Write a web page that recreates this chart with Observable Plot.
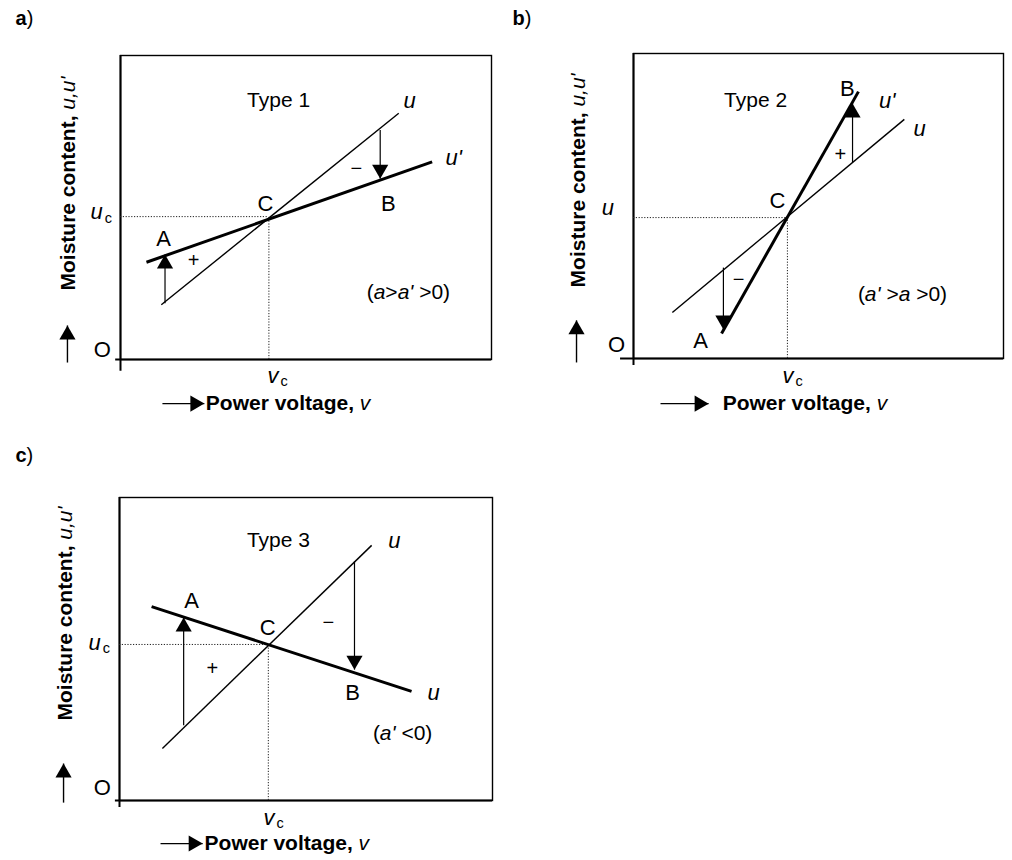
<!DOCTYPE html>
<html><head><meta charset="utf-8">
<script src="https://cdn.jsdelivr.net/npm/d3@7"></script>
<script src="https://cdn.jsdelivr.net/npm/@observablehq/plot@0.6"></script>
<style>
body{margin:0;background:#fff;}
#wrap{position:relative;width:1012px;height:860px;background:#fff;}
.panel{position:absolute;}
</style></head><body><div id="wrap"></div>
<script>
// ---------- data (schematic units, 0..100 on both axes) ----------
const panelTags = ["a", "b", "c"];
const typeLabels = ["Type 1", "Type 2", "Type 3"];
const conditionLabels = [
  [["(", ""], ["a", "i"], [">", ""], ["a'", "i"], [" >0)", ""]],
  [["(", ""], ["a'", "i"], [" >", ""], ["a", "i"], [" >0)", ""]],
  [["(", ""], ["a'", "i"], [" <0)", ""]]
];
// crossing point C
const crossX = [40, 41.6, 39.9];
const crossY = [47, 46.2, 51.5];
// thin line u (two end points)
const uLineX = [[11, 75], [10.5, 73.2], [11.5, 67.6]];
const uLineY = [[18, 81], [15.1, 78.4], [17.2, 84.2]];
// thick line u' (two end points)
const upLineX = [[7, 84], [23.8, 60.8], [8.6, 78.3]];
const upLineY = [[32, 65], [8.2, 87.5], [64, 36]];
// arrow at A: x, from (on u), to (on u')
const arrowAX = [12, 24.3, 17.2];
const arrowAFrom = [18.5, 29.8, 24.8];
const arrowATo = [34.5, 9.5, 60.4];
// arrow at B
const arrowBX = [70, 59.2, 63];
const arrowBFrom = [75.5, 64.3, 78.9];
const arrowBTo = [59.5, 83.6, 43.2];
// line-end labels
const thinLineLabels = ["u", "u", "u"];
const thickLineLabels = ["u'", "u'", "u"];
const signNearA = ["+", "−", "+"];
const signNearB = ["−", "+", "−"];
const yLevelLabel = [[["u", "i"], ["c", "sub"]], [["u", "i"]], [["u", "i"], ["c", "sub"]]];

// ---------- layout ----------
const layout = [
  {left:0, top:0, w:506, h:420, mL:120, mR:15, mT:55, mB:61, ext:[-1.3, -3.9],
   tag:[-28.3,112.2], type:[42.6,85.2], thin:[77.9,85.2], thick:[89.8,66.4],
   sA:[19.7,32.6], sB:[63.6,62.8], A:[11.6,39.5], B:[72.2,51.3], C:[39.1,51.3],
   cond:[77.6,22.0], O:[-4.9,3.3], uc:[-8.1,48.4], vc:[39.6,-5.3],
   ylab:[-14.0,22.7], upArr:[-14.3,-1,11.2], pArr:[-14.5,11.3,22.6], pText:[23.0,-14.5]},
  {left:506, top:0, w:506, h:420, mL:127, mR:9, mT:53, mB:62, ext:[-3.5, -2.3],
   tag:[-32.7,111.5], type:[33.0,84.6], thin:[77.3,75.4], thick:[68.6,84.6],
   sA:[28.4,25.9], sB:[55.9,66.9], A:[18.1,5.9], B:[57.8,88.5], C:[38.9,51.8],
   cond:[72.7,21.0], O:[-4.6,4.6], uc:[-8.6,49.2], vc:[40.3,-5.6],
   ylab:[-14.9,23.3], upArr:[-15.4,-1.3,12.5], pArr:[-14.8,7.3,20.3], pText:[24.1,-14.8]},
  {left:0, top:420, w:506, h:440, mL:119, mR:14, mT:77, mB:60, ext:[-1.1, -2.3],
   tag:[-27.9,113.9], type:[42.6,85.8], thin:[73.7,85.8], thick:[84.2,35.6],
   sA:[24.9,43.6], sB:[56.0,58.7], A:[19.3,65.7], B:[62.5,35.6], C:[39.7,56.8],
   cond:[75.9,22.1], O:[-4.6,4.0], uc:[-8.3,52.1], vc:[38.6,-5.6],
   ylab:[-14.5,26.4], upArr:[-15.0,-0.7,12.2], pArr:[-14.2,11.0,22.3], pText:[22.8,-14.2]}
];

const FONT = '"Liberation Sans", Arial, Helvetica, sans-serif';
const ctx = document.createElement("canvas").getContext("2d");

function rich(segs, x, y, {size = 20, rotate = 0, anchor = "start"} = {}) {
  const parts = segs.map(([t, st]) => {
    const s = {t, b: st.includes("b") && !st.includes("sub"), i: st.includes("i"), sub: st.includes("sub")};
    s.fs = s.sub ? size * 0.66 : size;
    ctx.font = `${s.i ? "italic" : "normal"} ${s.b ? "bold" : "normal"} ${s.fs}px ${FONT}`;
    s.w = ctx.measureText(t).width + (s.sub ? 2 : 0);
    return s;
  });
  const total = d3.sum(parts, p => p.w);
  let off = anchor === "middle" ? -total / 2 : anchor === "end" ? -total : 0;
  return parts.map(p => {
    const perp = p.sub ? size * 0.26 : 0;
    const along = off + (p.sub ? 2 : 0);
    off += p.w;
    const [dx, dy] = rotate === -90 ? [perp, -along] : [along, perp];
    return Plot.text([p.t], {x: [x], y: [y], text: d => d, textAnchor: "start", rotate, dx, dy,
      fontSize: p.fs, fontWeight: p.b ? "bold" : "normal", fontStyle: p.i ? "italic" : "normal",
      fontFamily: FONT, fill: "#000"});
  });
}
function label(t, pos, opts = {}) {
  return Plot.text([t], {x: [pos[0]], y: [pos[1]], text: d => d, fontSize: 22, fontFamily: FONT, fill: "#000", ...opts});
}
const HEAD = 9.3; // tip offset of the triangle symbol (r = 6)
function vArrow(x, from, to, sw = 1.2) {
  const up = to > from;
  return [
    Plot.link([0], {x1: [x], y1: [from], x2: [x], y2: [to], stroke: "#000", strokeWidth: sw}),
    Plot.dot([0], {x: [x], y: [to], symbol: "triangle", r: 6, fill: "#000", stroke: "none",
      rotate: up ? 0 : 180, dy: up ? HEAD : -HEAD})
  ];
}
function hArrow(y, from, to) {
  return [
    Plot.link([0], {x1: [from], y1: [y], x2: [to], y2: [y], stroke: "#000", strokeWidth: 1.3}),
    Plot.dot([0], {x: [to], y: [y], symbol: "triangle", r: 6, fill: "#000", stroke: "none",
      rotate: 90, dx: -HEAD})
  ];
}

const wrap = document.getElementById("wrap");
layout.forEach((L, i) => {
  const pts = (xs, ys) => xs.map((x, j) => ({x, y: ys[j]}));
  const dotted = {stroke: "#222", strokeWidth: 1, strokeDasharray: "1.2,1.6"};
  const marks = [
    Plot.frame({stroke: "#000", strokeWidth: 1.4}),
    Plot.ruleY([0], {x1: L.ext[0], x2: 100, stroke: "#000", strokeWidth: 2}),
    Plot.ruleX([0], {y1: L.ext[1], y2: 100, stroke: "#000", strokeWidth: 2}),
    Plot.ruleY([crossY[i]], {x1: 0, x2: crossX[i], ...dotted}),
    Plot.ruleX([crossX[i]], {y1: 0, y2: crossY[i], ...dotted}),
    Plot.line(pts(uLineX[i], uLineY[i]), {x: "x", y: "y", stroke: "#000", strokeWidth: 1.4, strokeLinecap: "butt"}),
    Plot.line(pts(upLineX[i], upLineY[i]), {x: "x", y: "y", stroke: "#000", strokeWidth: 3, strokeLinecap: "butt"}),
    ...vArrow(arrowAX[i], arrowAFrom[i], arrowATo[i]),
    ...vArrow(arrowBX[i], arrowBFrom[i], arrowBTo[i]),
    // labels
    ...rich([[panelTags[i], "b"], [")", ""]], L.tag[0], L.tag[1], {size: 20}),
    label(typeLabels[i], L.type, {fontSize: 21}),
    label(thinLineLabels[i], L.thin, {fontStyle: "italic"}),
    label(thickLineLabels[i], L.thick, {fontStyle: "italic"}),
    label(signNearA[i], L.sA, {fontSize: 20}),
    label(signNearB[i], L.sB, {fontSize: 20}),
    label("A", L.A), label("B", L.B), label("C", L.C),
    ...rich(conditionLabels[i], L.cond[0], L.cond[1], {size: 21, anchor: "middle"}),
    label("O", L.O),
    ...rich(yLevelLabel[i], L.uc[0], L.uc[1], {size: 22}),
    ...rich([["v", "i"], ["c", "sub"]], L.vc[0], L.vc[1], {size: 22}),
    ...rich([["Moisture content, ", "b"], ["u,u'", "i"]], L.ylab[0], L.ylab[1], {size: 21, rotate: -90}),
    ...vArrow(L.upArr[0], L.upArr[1], L.upArr[2], 1.4),
    ...hArrow(L.pArr[0], L.pArr[1], L.pArr[2]),
    ...rich([["Power voltage, ", "b"], ["v", "i"]], L.pText[0], L.pText[1], {size: 21})
  ];
  const svg = Plot.plot({
    width: L.w, height: L.h,
    marginLeft: L.mL, marginRight: L.mR, marginTop: L.mT, marginBottom: L.mB,
    x: {domain: [0, 100], axis: null},
    y: {domain: [0, 100], axis: null},
    style: {background: "transparent", color: "#000", overflow: "visible"},
    marks
  });
  const div = document.createElement("div");
  div.className = "panel";
  div.style.left = L.left + "px";
  div.style.top = L.top + "px";
  div.appendChild(svg);
  wrap.appendChild(div);
});
</script>
</body></html>
